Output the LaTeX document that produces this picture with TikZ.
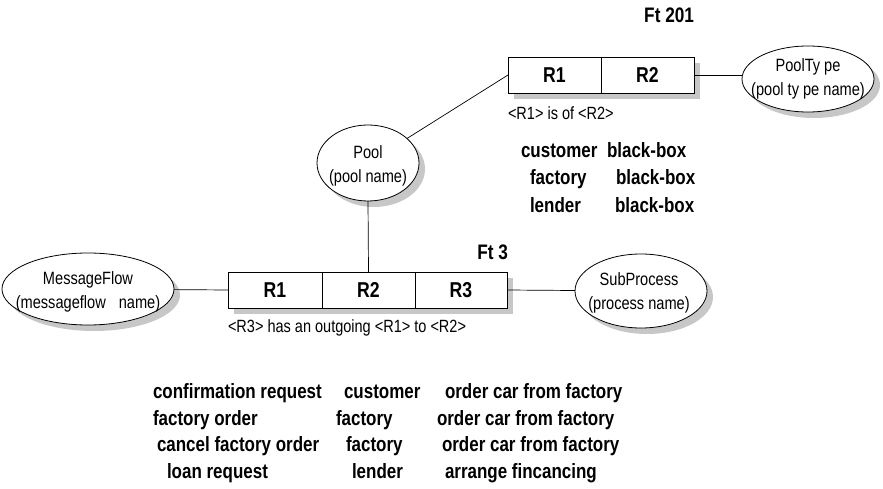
\documentclass[tikz,border=0pt]{standalone}
\usepackage{fontspec}
% narrow, tall sans lettering
\setmainfont[FakeStretch=0.82]{Liberation Sans}
\usetikzlibrary{shapes.geometric,shadows}

\begin{document}
\begin{tikzpicture}[x=1pt,y=-1pt,
  every node/.style={inner sep=0pt,outer sep=0pt},
  castshadow/.style={drop shadow={shadow xshift=6pt,shadow yshift=-6pt,fill=black!22,opacity=1}},
  rolebox/.style={draw,line width=0.8pt,fill=white,minimum height=36pt,
    font=\fontsize{21.5}{24}\selectfont\bfseries,castshadow},
  entity/.style={ellipse,draw,line width=0.8pt,fill=white,castshadow},
  entitytext/.style={align=center,font=\fontsize{17.8}{24}\selectfont},
  connector/.style={line width=0.7pt},
  factcap/.style={anchor=base west,font=\fontsize{17.7}{20}\selectfont},
  ftlabel/.style={anchor=base east,font=\fontsize{21}{24}\selectfont\bfseries},
  tablerow/.style={anchor=base west,font=\fontsize{20.7}{24}\selectfont\bfseries}]
\useasboundingbox (0,0) rectangle (883,489);

% ---- fact type Ft 201: <R1> is of <R2>
\node[rolebox,minimum width=93pt] (ftAr1) at (554.5,75) {R1};
\node[rolebox,minimum width=93pt] (ftAr2) at (647.5,75) {R2};
\node[ftlabel] (ftAname) at (694,23) {Ft 201};
\node[factcap] (ftAcap) at (508,120) {<R1> is of <R2>};

% ---- fact type Ft 3: <R3> has an outgoing <R1> to <R2>
\node[rolebox,minimum width=94pt] (ftBr1) at (275,290) {R1};
\node[rolebox,minimum width=93pt] (ftBr2) at (368.5,290) {R2};
\node[rolebox,minimum width=92pt] (ftBr3) at (461,290) {R3};
\node[ftlabel] (ftBname) at (508,259) {Ft 3};
\node[factcap] (ftBcap) at (228,332) {<R3> has an outgoing <R1> to <R2>};

% ---- object types
\node[entity,minimum width=132pt,minimum height=66pt] (pooltype) at (808,79) {};
\node[entitytext] (pooltypetext) at (808,79) {PoolTy pe\\(pool ty pe name)};

\node[entity,minimum width=102pt,minimum height=76pt] (pool) at (368,163) {};
\node[entitytext] (pooltext) at (368,166) {Pool\\(pool name)};

\node[entity,minimum width=172pt,minimum height=72pt] (msgflow) at (88,289) {};
\node[entitytext] (msgflowtext) at (88,292) {MessageFlow\\(messageflow\hspace{0.5em} name)};

\node[entity,minimum width=132pt,minimum height=74pt] (subproc) at (641,291) {};
\node[entitytext] (subproctext) at (639,293) {SubProcess\\(process name)};

% ---- role connectors
\draw[connector] (pool) -- (ftAr1.west);
\draw[connector] (ftAr2.east) -- (ftAr2.east -| pooltype.west);
\draw[connector] (pool.south) -- (ftBr2.north);
\draw[connector] (msgflow) -- (ftBr1.west);
\draw[connector] (ftBr3.east) -- (subproc);

% ---- sample population of Ft 201
\node[tablerow] (pa1) at (521,158) {customer};
\node[tablerow] (pa2) at (607,158) {black-box};
\node[tablerow] (pb1) at (530,185) {factory};
\node[tablerow] (pb2) at (616,185) {black-box};
\node[tablerow] (pc1) at (530,212) {lender};
\node[tablerow] (pc2) at (615,212) {black-box};

% ---- sample population of Ft 3
\node[tablerow] (ma1) at (153,398) {confirmation request};
\node[tablerow] (ma2) at (344,398) {customer};
\node[tablerow] (ma3) at (445,398) {order car from factory};
\node[tablerow] (mb1) at (153,425) {factory order};
\node[tablerow] (mb2) at (336,425) {factory};
\node[tablerow] (mb3) at (437,425) {order car from factory};
\node[tablerow] (mc1) at (157,451) {cancel factory order};
\node[tablerow] (mc2) at (346,451) {factory};
\node[tablerow] (mc3) at (442,451) {order car from factory};
\node[tablerow] (md1) at (167,478) {loan request};
\node[tablerow] (md2) at (352,478) {lender};
\node[tablerow] (md3) at (445,478) {arrange fincancing};
\end{tikzpicture}
\end{document}
